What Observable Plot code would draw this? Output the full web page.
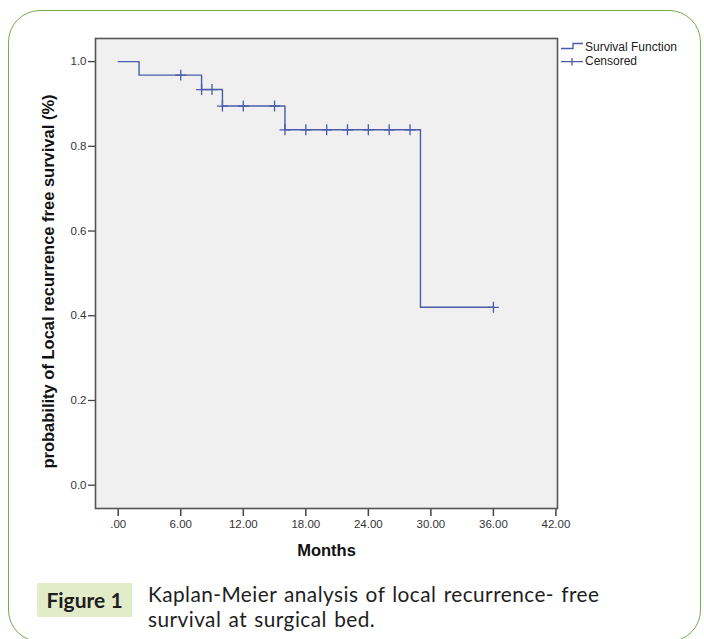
<!DOCTYPE html>
<html>
<head>
<meta charset="utf-8">
<script src="https://cdn.jsdelivr.net/npm/d3@7"></script>
<script src="https://cdn.jsdelivr.net/npm/@observablehq/plot@0.6"></script>
<style>
  html, body { margin: 0; padding: 0; background: #fff; }
  #page { position: relative; width: 704px; height: 639px; overflow: hidden; background: #fff; }
  #border { position: absolute; left: 8px; top: 10px; width: 693px; height: 632px;
            border: 1.5px solid #74ae4c; border-radius: 32px; box-sizing: border-box; }
  #chart { position: absolute; left: 0; top: 0; }
  #legend { position: absolute; left: 558px; top: 38px; }
  #figlabel { position: absolute; left: 37px; top: 583px; width: 95px; height: 34px; background: #e2ecc9;
              font: bold 21px Lato, "Open Sans", sans-serif; color: #1e1e1e; text-align: center; line-height: 34px; }
  .cap { position: absolute; left: 148px; font: 20.8px Lato, "Open Sans", sans-serif; color: #1e1e1e;
         line-height: 25px; height: 25px; white-space: nowrap; letter-spacing: 0.45px; word-spacing: 1.5px; }
  #cap1 { top: 580.5px; }
  #cap2 { top: 605.5px; }
  #chart svg [aria-label="x-axis tick label"] text,
  #chart svg [aria-label="y-axis tick label"] text { fill: #333; }
</style>
</head>
<body>
<div id="page">
  <div id="border"></div>
  <div id="chart"></div>
  <svg id="legend" width="146" height="36"></svg>
  <div id="figlabel">Figure 1</div>
  <div class="cap" id="cap1"></div>
  <div class="cap" id="cap2"></div>
</div>
<script>
// ---- data ----
const stepTimes    = [0, 2, 8, 10, 16, 29, 36];
const stepSurvival = [1.0, 0.968, 0.934, 0.895, 0.839, 0.420, 0.420];
const censoredTimes = [6, 8, 9, 10, 12, 15, 16, 18, 20, 22, 24, 26, 28, 36];
const xTicks = [0, 6, 12, 18, 24, 30, 36, 42];
const yTicks = [0.0, 0.2, 0.4, 0.6, 0.8, 1.0];
const legendLabels = ["Survival Function", "Censored"];
const xTitle = "Months";
const yTitle = "probability of Local recurrence free survival (%)";
const captionLines = ["Kaplan-Meier analysis of local recurrence- free", "survival at surgical bed."];

const lineColor = "#4a5ba8";

document.getElementById("cap1").textContent = captionLines[0];
document.getElementById("cap2").textContent = captionLines[1];

const steps = stepTimes.map((t, i) => ({t, s: stepSurvival[i]}));
const survivalAt = t => {
  let s = stepSurvival[0];
  for (let i = 0; i < stepTimes.length; i++) if (stepTimes[i] <= t) s = stepSurvival[i];
  return s;
};
const censored = censoredTimes.map(t => ({t, s: survivalAt(t)}));

const chart = Plot.plot({
  width: 704,
  height: 580,
  marginLeft: 95,
  marginRight: 147,
  marginTop: 38,
  marginBottom: 72,
  style: {fontFamily: '"Liberation Sans", Arial, sans-serif', fontSize: "11.5px", background: "transparent"},
  x: {domain: [-2.18, 42.15]},
  y: {domain: [-0.055, 1.0545]},
  marks: [
    Plot.frame({fill: "#f0f0f0", stroke: "none"}),
    Plot.axisX({ticks: xTicks, tickSize: 8, tickPadding: 3, stroke: "#444", strokeWidth: 1.5,
                tickFormat: d => d === 0 ? ".00" : d.toFixed(2), label: null}),
    Plot.axisY({ticks: yTicks, tickSize: 7, tickPadding: 2, stroke: "#444", strokeWidth: 1.3,
                tickFormat: d3.format(".1f"), label: null}),
    Plot.line(steps, {x: "t", y: "s", curve: "step-after", stroke: lineColor, strokeWidth: 1.4}),
    Plot.dot(censored, {x: "t", y: "s", symbol: "plus", r: 3.6, stroke: lineColor, strokeWidth: 1.3}),
    Plot.frame({stroke: "#555", strokeWidth: 1.6}),
    Plot.text([xTitle], {frameAnchor: "bottom", lineAnchor: "middle", dy: 42, fontWeight: "bold", fontSize: 16.5, fill: "#111"}),
    Plot.text([yTitle], {frameAnchor: "left", textAnchor: "middle", lineAnchor: "middle", rotate: -90, dx: -47, dy: 8,
                         fontWeight: "bold", fontSize: 16.5, fill: "#111"})
  ]
});
document.getElementById("chart").appendChild(chart);

// legend
const lg = d3.select("#legend");
lg.append("path").attr("d", "M3,10.5 H15 V5.5 H25").attr("fill", "none").attr("stroke", lineColor).attr("stroke-width", 1.3);
lg.append("path").attr("d", "M3,23.7 H25 M14,20 V27.4").attr("fill", "none").attr("stroke", lineColor).attr("stroke-width", 1.3);
lg.selectAll("text.l").data(legendLabels).join("text")
  .attr("x", 27).attr("y", (d, i) => 12.5 + i * 14)
  .attr("font-size", 12).attr("fill", "#222")
  .attr("font-family", '"Liberation Sans", Arial, sans-serif')
  .text(d => d);
</script>
</body>
</html>
